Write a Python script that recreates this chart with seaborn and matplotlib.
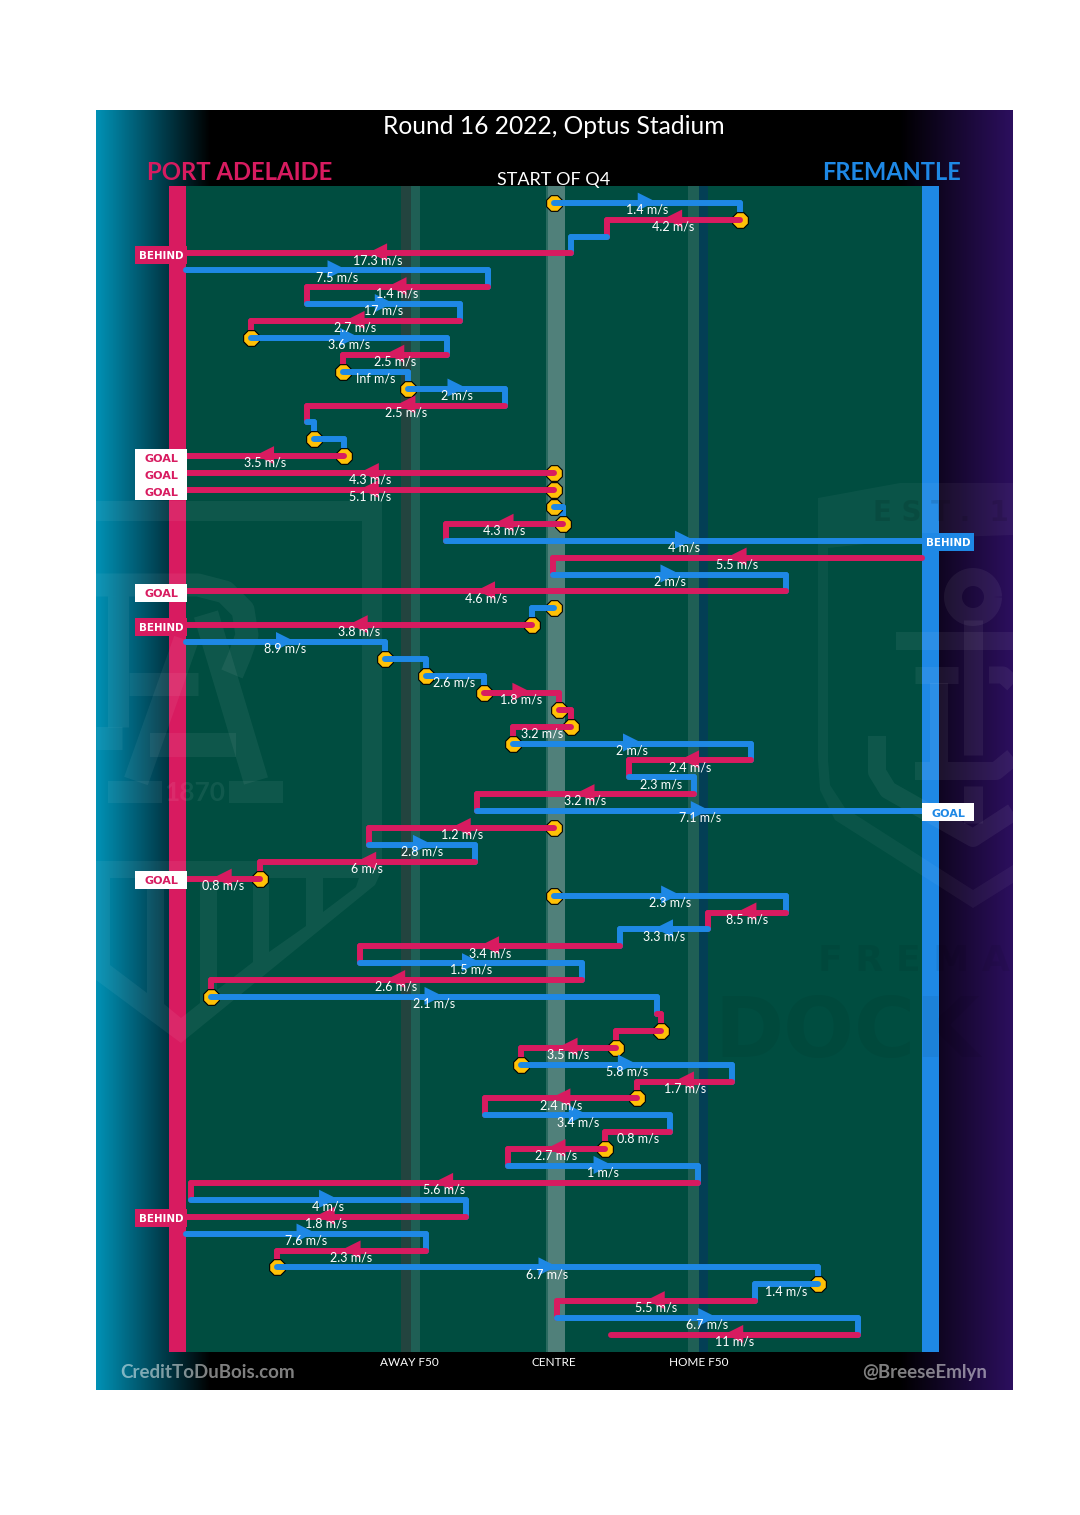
from __future__ import annotations

import matplotlib

matplotlib.use("Agg")

import matplotlib.pyplot as plt
import numpy as np
import pandas as pd
import seaborn as sns
from matplotlib.colors import LinearSegmentedColormap
from matplotlib.patches import PathPatch, Rectangle
from matplotlib.path import Path

PINK = "#D81B60"
BLUE = "#1E88E5"
FIELD = "#004D40"
DOT = "#FFC107"
TEAM_COLOURS = {"Port Adelaide": PINK, "Fremantle": BLUE}

# one row per possession event, x is metres from the centre of the ground
TEAMS = list("FPFPFPFPFPFFPFFPPPFPFPFPFPFFFPPPFPFPFPFPPFPFPFPFPPPFPPFPPFPFPFPFFPFP")
START_X = [
    0, 41.6, 11.8, 3.7, -82.6, -14.9, -55.3, -21.0, -68.0, -23.9,
    -47.3, -32.8, -10.9, -55.3, -53.9, -47.0, 0, 0, 0, 2.1,
    -24.3, 82.6, -0.3, 52.1, 0, -5.0, -82.6, -38.0, -28.8, -15.8,
    1.2, 3.9, -9.1, 44.1, 16.9, 31.3, -17.2, 0, -41.4, -17.8,
    -66.0, 0, 52.1, 34.6, 14.7, -43.4, 6.2, -77.0, 23.0, 23.9,
    13.8, -7.3, 40.0, 18.7, -15.4, 26.1, 11.5, -10.4, 32.2, -81.5,
    -19.8, -82.6, -28.8, -62.0, 59.1, 45.0, 0.6, 68.1,
]
END_X = [
    41.6, 11.8, 3.7, -82.6, -14.9, -55.3, -21.0, -68.0, -23.9, -47.3,
    -32.8, -10.9, -55.3, -53.9, -47.0, -82.6, -82.6, -82.6, 2.1, -24.3,
    82.6, -0.3, 52.1, -82.6, -5.0, -82.6, -38.0, -28.8, -15.8, 1.2,
    3.9, -9.1, 44.1, 16.9, 31.3, -17.2, 82.6, -41.4, -17.8, -66.0,
    -82.6, 52.1, 34.6, 14.7, -43.4, 6.2, -77.0, 23.0, 23.9, 13.8,
    -7.3, 40.0, 18.7, -15.4, 26.1, 11.5, -10.4, 32.2, -81.5, -19.8,
    -82.6, -28.8, -62.0, 59.1, 45.0, 0.6, 68.1, 12.7,
]
SPEEDS = [
    "1.4", "4.2", "", "17.3", "7.5", "1.4", "17", "2.7", "3.6", "2.5",
    "Inf", "2", "2.5", "", "", "3.5", "4.3", "5.1", "", "4.3",
    "4", "5.5", "2", "4.6", "", "3.8", "8.9", "", "2.6", "1.8",
    "", "3.2", "2", "2.4", "2.3", "3.2", "7.1", "1.2", "2.8", "6",
    "0.8", "2.3", "8.5", "3.3", "3.4", "1.5", "2.6", "2.1", "", "",
    "3.5", "5.8", "1.7", "2.4", "3.4", "0.8", "2.7", "1", "5.6", "4",
    "1.8", "7.6", "2.3", "6.7", "1.4", "5.5", "6.7", "11",
]
STOPPAGE_ROWS = [
    0, 1, 8, 10, 11, 14, 15, 16, 17, 18, 19, 24, 25, 27, 28, 29, 30, 31, 32,
    37, 40, 41, 47, 49, 50, 51, 53, 56, 63, 64,
]
SCORE_ROWS = [3, 15, 16, 17, 20, 23, 25, 36, 40, 60]
SCORE_LABELS = ["BEHIND", "GOAL", "GOAL", "GOAL", "BEHIND", "GOAL", "BEHIND", "GOAL", "GOAL", "BEHIND"]

ZONE_TICKS = [-32.4, 0, 32.4]
ZONE_LABELS = ["AWAY F50", "CENTRE", "HOME F50"]

# picture geometry
PX_PER_M = 4.46
PX_PER_ROW = 16.9
CENTRE_PX = 554.0
ROW0_PX = 202.7
PANEL = (96, 1013, 110, 1390)


def px_x(value):
    return (np.asarray(value, dtype=float) - CENTRE_PX) / PX_PER_M


def px_y(value):
    return (np.asarray(value, dtype=float) - ROW0_PX) / PX_PER_ROW


def build_events() -> pd.DataFrame:
    df = pd.DataFrame({"team": TEAMS, "start": START_X, "end": END_X, "speed": SPEEDS})
    df["team"] = df["team"].map({"P": "Port Adelaide", "F": "Fremantle"})
    df["row"] = df.index
    df["mid"] = (df["start"] + df["end"]) / 2
    df["direction"] = np.where(df["end"] > df["start"], "right", "left")
    df["scored"] = df["row"].isin(SCORE_ROWS)
    return df


def draw_background(ax) -> None:
    left = LinearSegmentedColormap.from_list("left", ["#0091B5", "#000000"])
    right = LinearSegmentedColormap.from_list("right", ["#000000", "#2C0F5E"])
    xs = np.arange(PANEL[0], PANEL[1] + 1)
    strip = np.zeros((1, len(xs), 3))
    lmask = xs < 210
    rmask = xs > 900
    strip[0, lmask] = left((xs[lmask] - 96) / 114)[:, :3]
    strip[0, rmask] = right((xs[rmask] - 900) / 113)[:, :3]
    ax.imshow(
        strip,
        extent=(px_x(96), px_x(1013), px_y(1390), px_y(110)),
        aspect="auto",
        zorder=0,
        interpolation="bilinear",
    )

    top, bottom = px_y(186), px_y(1352)

    def band(x0, x1, colour):
        ax.add_patch(Rectangle((px_x(x0), top), px_x(x1) - px_x(x0), bottom - top, color=colour, lw=0, zorder=1))

    band(185.5, 922, FIELD)
    band(401, 411, "#23443F")
    band(411, 420, "#1F5F55")
    band(546, 548, "#2A6A60")
    band(548, 565, "#50807A")
    band(688, 699, "#1F5F55")
    band(699, 708, "#033F55")
    band(169, 185.5, PINK)
    band(922, 939, BLUE)


def ring(ax, outer, holes=(), alpha=0.06) -> None:
    verts, codes = [], []
    for k, poly in enumerate([outer, *holes]):
        pts = np.array(poly, dtype=float)
        area = np.sum(pts[:, 0] * np.roll(pts[:, 1], -1) - np.roll(pts[:, 0], -1) * pts[:, 1])
        if (area > 0) != (k == 0):
            pts = pts[::-1]
        xy = np.column_stack([px_x(pts[:, 0]), px_y(pts[:, 1])])
        verts.extend(xy.tolist() + [xy[0].tolist()])
        codes.extend([Path.MOVETO] + [Path.LINETO] * (len(xy) - 1) + [Path.CLOSEPOLY])
    ax.add_patch(PathPatch(Path(verts, codes), facecolor="white", edgecolor="none", alpha=alpha, zorder=2))


def stroke(ax, points, width_px, alpha=0.06) -> None:
    pts = np.array(points, dtype=float)
    ax.plot(
        px_x(pts[:, 0]),
        px_y(pts[:, 1]),
        color="white",
        alpha=alpha,
        lw=width_px / 1.389,
        solid_capstyle="butt",
        solid_joinstyle="round",
        zorder=2,
    )


def draw_watermarks(ax) -> None:
    # Port Adelaide crest
    ring(
        ax,
        [(96, 501), (382, 501), (382, 870), (375, 885), (181, 1043), (96, 980)],
        [
            [(96, 521), (362, 521), (362, 861), (96, 861)],
            [(110, 878), (147, 878), (147, 993), (110, 965)],
            [(164, 878), (200, 878), (200, 1003), (181, 1018), (164, 1004)],
            [(217, 878), (253, 878), (253, 962), (217, 990)],
            [(269, 878), (306, 878), (306, 926), (269, 952)],
            [(323, 878), (359, 878), (356, 887), (323, 912)],
        ],
    )
    stroke(ax, [(96, 585), (198, 585), (225, 592), (243, 610), (247, 635), (240, 655), (232, 674)], 23)
    stroke(ax, [(118, 596), (118, 727)], 21)
    stroke(ax, [(96, 738), (122, 738)], 23)
    stroke(ax, [(129, 684), (198, 684)], 23)
    stroke(ax, [(206, 614), (256, 781)], 25)
    stroke(ax, [(186, 640), (136, 781)], 25)
    stroke(ax, [(150, 745), (236, 745)], 24)
    stroke(ax, [(108, 792), (162, 792)], 22)
    stroke(ax, [(229, 792), (283, 792)], 22)
    ax.text(px_x(195), px_y(793), "1870", color="white", alpha=0.07, fontsize=19, ha="center", va="center",
            fontweight="bold", zorder=2)

    # Fremantle crest
    ring(
        ax,
        [(818, 498), (900, 483), (1013, 483), (1013, 883), (973, 908), (835, 820), (820, 790), (818, 760)],
        [[(828, 548), (922, 538), (1013, 535), (1013, 865), (973, 890), (845, 808), (830, 785), (828, 760)]],
        alpha=0.045,
    )
    theta = np.linspace(0, 2 * np.pi, 60)
    stroke(ax, np.column_stack([973 + 20 * np.cos(theta), 597 + 20 * np.sin(theta)]), 18)
    stroke(ax, [(973, 620), (973, 755)], 19)
    stroke(ax, [(896, 641), (1013, 641)], 18)
    stroke(ax, [(915, 675), (958, 675)], 17)
    stroke(ax, [(939, 683), (939, 762)], 18)
    stroke(ax, [(915, 771), (996, 771), (1013, 757)], 18)
    stroke(ax, [(989, 675), (1003, 675), (1013, 684)], 17)
    stroke(ax, [(877, 736), (877, 772), (888, 790), (973, 838), (1013, 812)], 18)
    stroke(ax, [(973, 786), (973, 823)], 19)
    ax.text(px_x(873), px_y(513), "E S T .  1", color="black", alpha=0.1, fontsize=20, fontweight="bold",
            ha="left", va="center", zorder=2, family="DejaVu Sans")
    ax.text(px_x(818), px_y(961), "F R E M A", color="black", alpha=0.06, fontsize=26, fontweight="bold",
            ha="left", va="center", zorder=2, family="DejaVu Sans")
    ax.text(px_x(714), px_y(1034), "DOCK", color="black", alpha=0.05, fontsize=60, fontweight="bold",
            ha="left", va="center", zorder=2, family="DejaVu Sans")


def draw_events(ax, events: pd.DataFrame) -> None:
    # connectors go under the stoppage dots, the runs go over them
    linked = events[~events["scored"]].iloc[:-1]
    links = pd.concat(
        [
            pd.DataFrame({"x": linked["end"], "y": linked["row"], "seq": linked["row"]}),
            pd.DataFrame({"x": linked["end"], "y": linked["row"] + 1, "seq": linked["row"]}),
        ]
    )
    link_colours = {r: TEAM_COLOURS[t] for r, t in zip(events["row"], events["team"])}
    line_kws = dict(
        estimator=None,
        sort=False,
        legend=False,
        palette=link_colours,
        hue_order=list(events["row"]),
        linewidth=4.3,
        ax=ax,
    )
    sns.lineplot(data=links, x="x", y="y", hue="seq", zorder=3, **line_kws)

    stops = events[events["row"].isin(STOPPAGE_ROWS)]
    sns.scatterplot(
        data=stops, x="start", y="row", color=DOT, edgecolor="black", linewidth=0.8,
        marker="8", s=150, zorder=3.5, legend=False, ax=ax,
    )

    runs = pd.concat(
        [
            pd.DataFrame({"x": events["start"], "y": events["row"], "seq": events["row"]}),
            pd.DataFrame({"x": events["end"], "y": events["row"], "seq": events["row"]}),
        ]
    )
    sns.lineplot(data=runs, x="x", y="y", hue="seq", zorder=4, **line_kws)

    # short runs carry no arrow head
    long_runs = events[(events["end"] - events["start"]).abs() > 15].copy()
    long_runs["arrow_y"] = long_runs["row"] - 0.06
    sns.scatterplot(
        data=long_runs, x="mid", y="arrow_y", hue="team", style="direction",
        markers={"right": ">", "left": "<"}, palette=TEAM_COLOURS,
        s=170, linewidth=0, zorder=4.5, legend=False, ax=ax,
    )

    for row in events[events["speed"] != ""].itertuples():
        ax.text(row.mid, row.row + 0.4, f"{row.speed} m/s", color="white", fontsize=9,
                ha="center", va="center", zorder=6)


def draw_score_tags(ax, events: pd.DataFrame) -> None:
    tag_width = 52 / PX_PER_M
    tag_height = 18 / PX_PER_ROW
    for row, label in zip(SCORE_ROWS, SCORE_LABELS):
        event = events.loc[row]
        on_left = event["end"] < 0
        team_colour = TEAM_COLOURS[event["team"]]
        face, ink = ("white", team_colour) if label == "GOAL" else (team_colour, "white")
        x0 = px_x(135) if on_left else px_x(922)
        ax.add_patch(
            Rectangle((x0, row + 0.08 - tag_height / 2), tag_width, tag_height, color=face, lw=0, zorder=5)
        )
        ax.text(x0 + tag_width / 2, row + 0.15, label, color=ink, fontsize=8 if label == "GOAL" else 7.4,
                fontweight="bold", family="DejaVu Sans", ha="center", va="center", zorder=6)


def draw_titles(ax) -> None:
    ax.text(px_x(554), px_y(126), "Round 16 2022, Optus Stadium", color="white", fontsize=17.7,
            ha="center", va="center", zorder=6)
    ax.text(px_x(554), px_y(180), "START OF Q4", color="white", fontsize=13,
            ha="center", va="center", zorder=6)
    ax.text(px_x(240), px_y(172), "PORT ADELAIDE", color=PINK, fontsize=17.2, fontweight="bold",
            ha="center", va="center", zorder=6)
    ax.text(px_x(892), px_y(172), "FREMANTLE", color=BLUE, fontsize=17, fontweight="bold",
            ha="center", va="center", zorder=6)
    for tick, label in zip(ZONE_TICKS, ZONE_LABELS):
        ax.text(tick, px_y(1362), label, color="white", fontsize=8.5, ha="center", va="center", zorder=6)
    ax.text(px_x(208), px_y(1372), "CreditToDuBois.com", color="white", alpha=0.5, fontsize=13.5, fontweight="bold",
            ha="center", va="center", zorder=6)
    ax.text(px_x(925), px_y(1372), "@BreeseEmlyn", color="white", alpha=0.5, fontsize=13.5, fontweight="bold",
            ha="center", va="center", zorder=6)


def main() -> None:
    sns.set_theme(style="white")
    plt.rcParams["font.family"] = ["Lato", "DejaVu Sans"]

    events = build_events()

    fig = plt.figure(figsize=(10.8, 15.15), dpi=100, facecolor="white")
    ax = fig.add_axes(
        [PANEL[0] / 1080, 1 - PANEL[3] / 1515, (PANEL[1] - PANEL[0]) / 1080, (PANEL[3] - PANEL[2]) / 1515]
    )
    draw_background(ax)
    draw_watermarks(ax)
    draw_events(ax, events)
    draw_score_tags(ax, events)
    draw_titles(ax)

    ax.set_xlim(px_x(PANEL[0]), px_x(PANEL[1]))
    ax.set_ylim(px_y(PANEL[3]), px_y(PANEL[2]))
    ax.axis("off")
    fig.savefig("out.png", dpi=100, facecolor="white")
    plt.close(fig)


if __name__ == "__main__":
    main()
